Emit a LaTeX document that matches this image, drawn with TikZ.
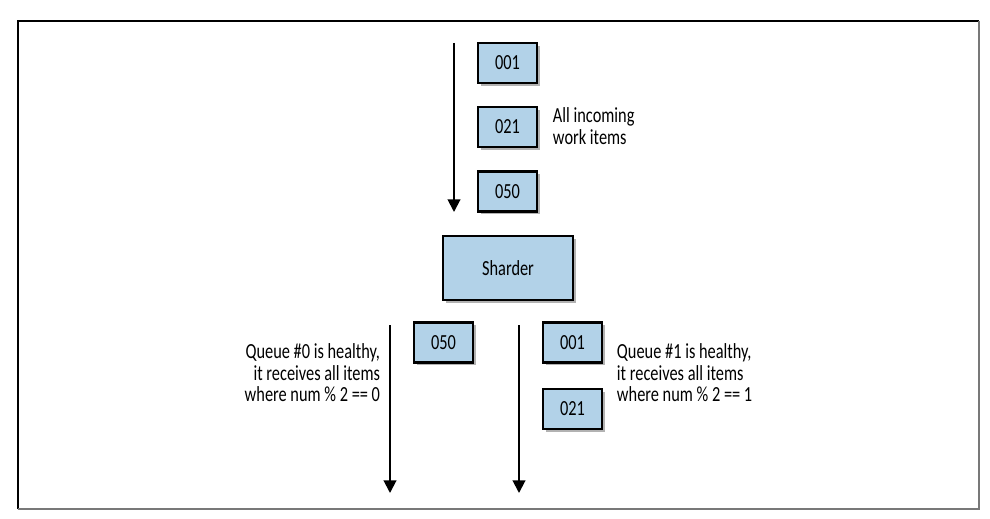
\documentclass[tikz,border=0pt]{standalone}
\usepackage{fontspec}
\setmainfont{Carlito}[FakeStretch=0.76]
\usepackage{tikz}
\usetikzlibrary{arrows.meta}
\usetikzlibrary{shadows}
\definecolor{itemblue}{RGB}{178,210,232}
\definecolor{framegray}{RGB}{120,120,120}

\begin{document}
\begin{tikzpicture}[line width=1.4pt,
        item_style/.style={rectangle,draw=black,line width=1.6pt,fill=itemblue,minimum width=1.475cm,minimum height=1cm,
            inner sep=0pt,font=\fontsize{15.3}{15.3}\selectfont,
            drop shadow={shadow xshift=2pt,shadow yshift=-2pt,opacity=0.3,fill=black}},
        sharder_style/.style={item_style,minimum width=3.25cm,minimum height=1.6cm},
        note_style/.style={inner sep=0pt,font=\fontsize{15.3}{15.3}\selectfont},
        flow_style/.style={draw=black,line width=1.4pt,-{Triangle[length=9pt,width=9pt]}}]

        \useasboundingbox (0,0) rectangle (24.75,12.95);
        % frame
        \draw [line width=1.2pt] (0.45,0.225) -- (0.45,12.425) -- (24.475,12.425);
        \draw [framegray,line width=2pt] (24.475,12.425) -- (24.475,0.225) -- (0.45,0.225);

        % incoming work
        \coordinate (in_top) at (11.35,11.875);
        \coordinate (in_bot) at (11.35,7.65);
        \node [item_style](in1) at (12.6875,11.375) {001};
        \node [item_style](in2) at (12.6875,9.775) {021};
        \node [item_style](in3) at (12.6875,8.1625) {050};
        \node [note_style,anchor=west,align=left](in_note) at (13.8,9.8) {All incoming\\work items};
        \draw [flow_style] (in_top) -- (in_bot);

        \node [sharder_style](sharder) at (12.7,6.25) {Sharder};

        % queue 0
        \coordinate (q0_top) at (9.75,4.825);
        \coordinate (q0_bot) at (9.75,0.625);
        \node [item_style](q0a) at (11.0875,4.3875) {050};
        \node [note_style,anchor=east,align=right](q0_note) at (9.525,3.63)
            {Queue \#0 is healthy,\\it receives all items\\where num \% 2 == 0};
        \draw [flow_style] (q0_top) -- (q0_bot);

        % queue 1
        \coordinate (q1_top) at (12.975,4.825);
        \coordinate (q1_bot) at (12.975,0.625);
        \node [item_style](q1a) at (14.3125,4.3875) {001};
        \node [item_style](q1b) at (14.3125,2.725) {021};
        \node [note_style,anchor=west,align=left](q1_note) at (15.4,3.63)
            {Queue \#1 is healthy,\\it receives all items\\where num \% 2 == 1};
        \draw [flow_style] (q1_top) -- (q1_bot);
        \end{tikzpicture}
\end{document}
